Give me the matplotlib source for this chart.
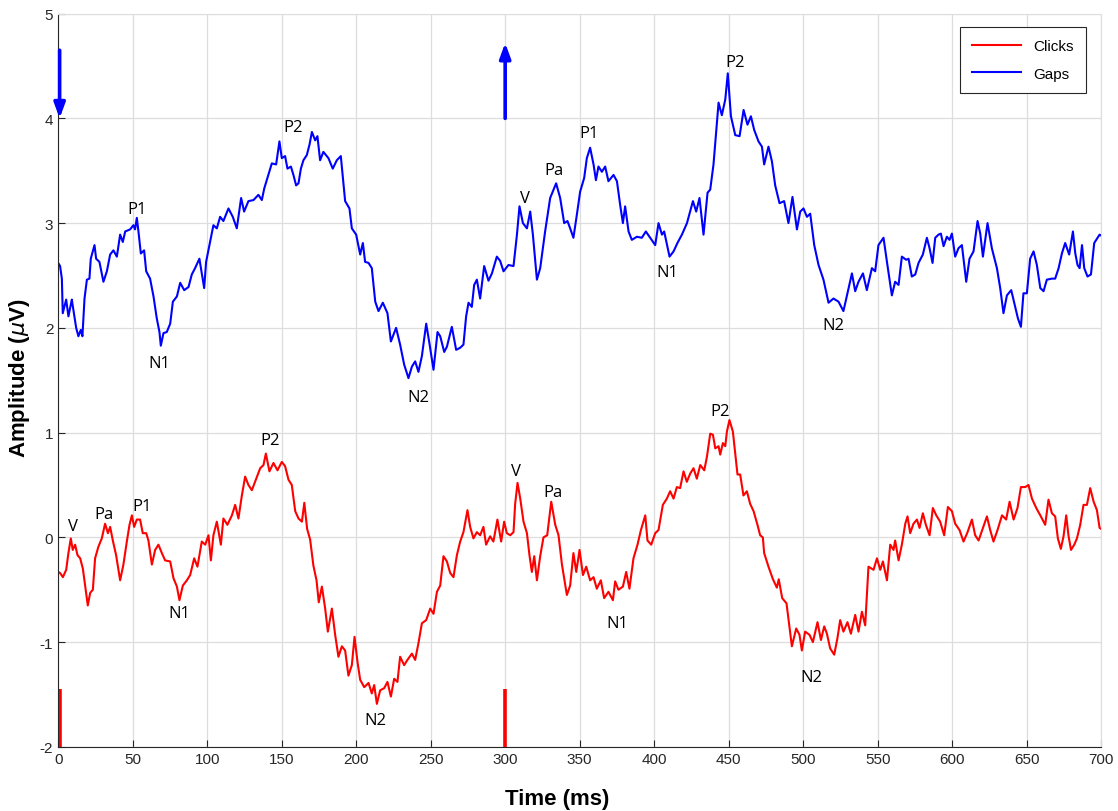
import matplotlib
matplotlib.use("Agg")
import matplotlib.pyplot as plt
import numpy as np

plt.rcParams["axes.unicode_minus"] = False

# (time ms, amplitude uV)
gaps_points = [
    (0, 2.62), (1.3, 2.59), (2.5, 2.47), (3.1, 2.14), (5.4, 2.27), (6.9, 2.11), (9.2, 2.27),
    (9.6, 2.23), (12.1, 2.0), (13.6, 1.92), (15.2, 1.98), (16.3, 1.92), (17.7, 2.28), (19.3, 2.46),
    (21, 2.47), (21.9, 2.66), (24.4, 2.79), (25.5, 2.66), (27.7, 2.63), (30.4, 2.44), (32.7, 2.54),
    (34.9, 2.70), (37.1, 2.74), (39.4, 2.68), (41.6, 2.89), (43.4, 2.82), (45, 2.92), (48.3, 2.94),
    (50.5, 2.98), (51.6, 2.94), (52.8, 3.05), (53.9, 2.92), (55.5, 2.71), (57.7, 2.74), (59.1, 2.54),
    (61.7, 2.47), (64, 2.30), (66.2, 2.09), (68, 1.96), (68.9, 1.83), (70.7, 1.95), (72.9, 1.96),
    (75.2, 2.04), (77, 2.25), (79.7, 2.30), (81.9, 2.43), (84.6, 2.36), (87.5, 2.39), (89.7, 2.51),
    (91.9, 2.57), (94.8, 2.66), (96.4, 2.52), (98, 2.38), (99.3, 2.63), (102, 2.82), (104.2, 2.98),
    (106.5, 2.95), (108.7, 3.06), (110.9, 3.02), (114.3, 3.14), (117.2, 3.06), (119.9, 2.95),
    (122.8, 3.24), (124.8, 3.11), (127.7, 3.21), (131.1, 3.22), (134.4, 3.27), (136.7, 3.22),
    (138.3, 3.33), (141.1, 3.46), (143.4, 3.57), (146.3, 3.56), (148.5, 3.78), (150.1, 3.62),
    (152.3, 3.64), (153.9, 3.52), (156.2, 3.54), (157.9, 3.46), (159.7, 3.36), (161.3, 3.38),
    (162.9, 3.52), (164.6, 3.60), (166.9, 3.65), (168.7, 3.75), (170.3, 3.87), (172.5, 3.79),
    (174, 3.83), (175.8, 3.60), (178, 3.68), (181.4, 3.62), (184.3, 3.52), (187, 3.60), (189.7, 3.64),
    (191.1, 3.43), (192.6, 3.21), (195.5, 3.14), (197.1, 2.95), (200, 2.89), (202.7, 2.70),
    (204.5, 2.81), (206, 2.63), (208.3, 2.62), (210.5, 2.57), (212.8, 2.25), (215, 2.16),
    (217.9, 2.24), (221, 2.14), (223.3, 1.87), (226.8, 2.0), (229.5, 1.84), (232.2, 1.65),
    (235.1, 1.52), (237.4, 1.63), (239.6, 1.68), (241.8, 1.58), (244.1, 1.73), (247, 2.04),
    (249.2, 1.85), (251.9, 1.60), (254.6, 1.96), (256.4, 1.92), (259.1, 1.77), (260.9, 1.82),
    (264.2, 2.01), (267.1, 1.79), (269.8, 1.81), (272, 1.84), (273.8, 2.11), (275.4, 2.24),
    (277.6, 2.20), (279.2, 2.41), (281, 2.46), (283.2, 2.28), (285.9, 2.59), (288.8, 2.45),
    (291.1, 2.52), (294.4, 2.68), (296.6, 2.64), (298.9, 2.54), (302.2, 2.60), (305.6, 2.59),
    (307.9, 2.89), (309.6, 3.16), (311.9, 3.0), (314.6, 2.95), (316.8, 3.11), (318.6, 2.89),
    (321.3, 2.46), (323.5, 2.57), (326.8, 2.92), (330.2, 3.24), (334.2, 3.38), (336.9, 3.24),
    (339.6, 3.0), (341.8, 3.02), (343.6, 2.95), (345.8, 2.86), (348.1, 3.08), (350.3, 3.30),
    (353, 3.43), (354.8, 3.62), (357, 3.72), (359.3, 3.56), (360.9, 3.41), (362.6, 3.54),
    (364.9, 3.49), (367.1, 3.54), (369.3, 3.40), (372.7, 3.46), (375, 3.40), (377.2, 3.17),
    (379, 3.0), (380.5, 3.16), (382.8, 2.92), (385, 2.84), (388.4, 2.87), (391.7, 2.86),
    (394.4, 2.92), (397.3, 2.86), (400.7, 2.79), (402.9, 3.0), (405.2, 2.89), (406.7, 2.92),
    (410.3, 2.68), (413, 2.73), (415.6, 2.81), (418.6, 2.89), (422, 3.0), (426, 3.21), (428.2, 3.11),
    (430.4, 3.24), (433.1, 2.89), (435.8, 3.29), (437.6, 3.32), (439.8, 3.56), (441.6, 3.87),
    (443.2, 4.15), (445.4, 4.03), (447.7, 4.18), (449.4, 4.43), (451.5, 4.02), (454.4, 3.84),
    (457.3, 3.83), (460, 4.08), (462.6, 3.94), (464.9, 4.02), (467.1, 3.89), (470, 3.78),
    (472.3, 3.73), (473.8, 3.56), (476.7, 3.73), (479, 3.59), (481.2, 3.36), (484.1, 3.19),
    (487.2, 3.21), (490.1, 3.0), (492.8, 3.25), (495.8, 2.94), (498, 3.11), (500.2, 3.14),
    (502.5, 3.06), (504.7, 3.09), (507.4, 2.79), (510.3, 2.60), (513.6, 2.46), (517, 2.24),
    (520.3, 2.28), (523.7, 2.25), (527, 2.16), (529.7, 2.33), (532.7, 2.52), (534.9, 2.35),
    (537.1, 2.44), (540.1, 2.52), (542.7, 2.36), (546.1, 2.57), (548.3, 2.54), (550.5, 2.79),
    (553.9, 2.86), (556.2, 2.63), (559.5, 2.31), (561.7, 2.44), (564, 2.41), (566.2, 2.68),
    (569.1, 2.65), (570.7, 2.66), (572.9, 2.49), (575.2, 2.51), (577.4, 2.62), (580.3, 2.70),
    (583, 2.86), (584.8, 2.76), (586.8, 2.62), (588.6, 2.86), (590.8, 2.89), (592.4, 2.90),
    (594.2, 2.78), (596.4, 2.87), (598.2, 2.84), (599.8, 2.90), (602, 2.68), (604.2, 2.76),
    (606.5, 2.79), (609.4, 2.44), (611.6, 2.66), (614.3, 2.73), (617, 3.02), (618.8, 2.90),
    (620.6, 2.68), (623.7, 3.0), (626.6, 2.76), (630, 2.57), (632.2, 2.38), (634.4, 2.14),
    (636.7, 2.31), (639.6, 2.36), (642.3, 2.20), (644.1, 2.09), (646.1, 2.01), (647.8, 2.33),
    (650.1, 2.33), (652.3, 2.66), (654.6, 2.73), (656.8, 2.60), (659.1, 2.38), (661.3, 2.35),
    (663.5, 2.46), (666.9, 2.47), (669.1, 2.47), (671.4, 2.57), (673.6, 2.71), (675.8, 2.81),
    (678.5, 2.70), (681, 2.92), (682.6, 2.71), (684.1, 2.60), (685.5, 2.57), (687.1, 2.79),
    (688.6, 2.57), (690.8, 2.49), (693.1, 2.51), (695.3, 2.81), (698.9, 2.89), (700, 2.88),
]

clicks_points = [
    (0, -0.33), (1.3, -0.34), (3.2, -0.38), (5.4, -0.31), (6.9, -0.15), (8.5, -0.01), (9.8, -0.12),
    (11.4, -0.07), (13, -0.17), (14.8, -0.20), (16.6, -0.30), (18.1, -0.46), (19.9, -0.65),
    (21.5, -0.53), (23.3, -0.50), (24.8, -0.20), (27, -0.09), (29.3, -0.01), (31.5, 0.13),
    (33.4, 0.04), (34.9, 0.10), (36.7, -0.03), (38.9, -0.17), (41.6, -0.41), (43.8, -0.26),
    (46.1, -0.04), (47.9, 0.12), (49.5, 0.21), (51, 0.10), (52.8, 0.17), (55, 0.17), (56.8, 0.04),
    (59.1, 0.04), (60.6, -0.03), (62.9, -0.26), (65.1, -0.12), (67.3, -0.07), (69.6, -0.15),
    (71.8, -0.22), (75.2, -0.23), (77.4, -0.39), (79.7, -0.47), (81.4, -0.60), (83.7, -0.46),
    (86.4, -0.41), (88.6, -0.36), (91.3, -0.20), (93.5, -0.28), (96.4, -0.04), (98.7, -0.07),
    (100.9, 0.02), (102.5, -0.22), (104.2, 0.02), (106.5, 0.15), (109.2, -0.07), (110.9, 0.18),
    (113.6, 0.12), (116.6, 0.21), (118.8, 0.31), (121, 0.18), (123.3, 0.40), (125.5, 0.58),
    (127.7, 0.50), (130, 0.45), (132.9, 0.56), (135.6, 0.66), (137.8, 0.69), (139.4, 0.80),
    (141.8, 0.63), (144.5, 0.71), (147.2, 0.64), (150.1, 0.72), (152.3, 0.68), (154.6, 0.55),
    (156.8, 0.50), (159.1, 0.25), (161.3, 0.18), (163.6, 0.15), (165.2, 0.33), (167.1, 0.08),
    (169.1, -0.02), (171.3, -0.27), (173.4, -0.41), (174.9, -0.62), (177, -0.47), (179.2, -0.68),
    (181, -0.90), (183.7, -0.68), (185.9, -0.93), (188.1, -1.14), (190.4, -1.04), (192.6, -1.08),
    (194.8, -1.32), (197.1, -1.22), (198.9, -0.95), (200.9, -1.19), (202.7, -1.36), (205.4, -1.43),
    (208.3, -1.39), (210.5, -1.49), (212.1, -1.41), (213.9, -1.59), (216.1, -1.46), (218.8, -1.44),
    (221, -1.38), (223.3, -1.52), (225.5, -1.35), (227.7, -1.38), (229.5, -1.14), (232.2, -1.22),
    (234.4, -1.17), (237.4, -1.11), (239.6, -1.17), (241.8, -1.01), (244.1, -0.82), (247, -0.79),
    (249.7, -0.68), (251.9, -0.73), (254.2, -0.52), (256.4, -0.46), (258.6, -0.18), (260.9, -0.23),
    (263.1, -0.34), (265.3, -0.38), (267.6, -0.17), (269.8, -0.04), (272, 0.05), (274.7, 0.26),
    (276.5, 0.10), (278.7, -0.01), (281, 0.05), (283.2, 0.02), (285.4, 0.10), (287.2, -0.07),
    (289.9, 0.01), (292.1, -0.04), (294.8, 0.17), (297.3, -0.04), (299.3, 0.15), (301.1, 0.04),
    (303.4, 0.02), (305.6, 0.05), (306.7, 0.32), (308.3, 0.52), (310.1, 0.37), (312.3, 0.15),
    (314.6, 0.04), (316.3, -0.17), (317.9, -0.33), (319.5, -0.18), (321.3, -0.41), (323.5, -0.18),
    (325.7, 0.0), (328.2, 0.02), (330.9, 0.34), (333.6, 0.12), (335.8, 0.02), (338.1, -0.26),
    (339.6, -0.39), (341.4, -0.55), (343.6, -0.46), (345.8, -0.15), (347.7, -0.33), (349.9, -0.12),
    (352.2, -0.36), (354.4, -0.28), (357, -0.41), (359.3, -0.38), (361.5, -0.49), (364.2, -0.41),
    (366.4, -0.58), (369.3, -0.52), (372.3, -0.60), (373.8, -0.42), (376, -0.50), (379, -0.47),
    (381.2, -0.33), (383.4, -0.49), (386.1, -0.20), (388.8, -0.07), (391.1, 0.07), (394, 0.21),
    (395.5, -0.03), (398, -0.07), (400.7, 0.04), (402.9, 0.07), (405.8, 0.31), (408.5, 0.37),
    (410.7, 0.44), (413, 0.37), (415.2, 0.48), (417.4, 0.47), (419.7, 0.63), (421.9, 0.53),
    (424.2, 0.61), (426.4, 0.66), (428.6, 0.56), (430.9, 0.69), (433.6, 0.64), (435.4, 0.77),
    (437.6, 0.99), (439.4, 0.98), (441, 0.85), (443.2, 0.87), (444.3, 0.79), (446.1, 0.90),
    (447.7, 0.87), (448.8, 1.01), (450.5, 1.12), (452.8, 1.01), (454.4, 0.80), (455.9, 0.60),
    (457.7, 0.60), (459.9, 0.40), (462.2, 0.44), (464.4, 0.32), (466.7, 0.25), (469.3, 0.12),
    (471.1, 0.02), (472.9, 0.0), (473.8, -0.15), (476.7, -0.28), (479.7, -0.40), (482.3, -0.48),
    (483.6, -0.40), (485.9, -0.58), (488.8, -0.63), (491.3, -0.92), (492.4, -1.04), (495.3, -0.87),
    (497.5, -0.93), (499.1, -1.08), (501.3, -0.90), (504.2, -0.93), (506.5, -1.0), (509.6, -0.81),
    (511.9, -0.98), (514.1, -0.85), (515.9, -0.92), (518.1, -1.06), (520.8, -1.12), (523, -0.96),
    (524.8, -0.79), (527, -0.90), (529.7, -0.81), (532, -0.92), (534.9, -0.74), (537.1, -0.90),
    (539.4, -0.71), (541.6, -0.84), (543.8, -0.28), (547.2, -0.31), (549.5, -0.20), (551.7, -0.31),
    (553.5, -0.23), (556.2, -0.41), (558.4, -0.07), (560.6, -0.12), (561.7, -0.03), (564, -0.22),
    (566.2, -0.07), (568.5, 0.13), (570, 0.20), (571.8, 0.04), (574, 0.13), (576.3, 0.17),
    (578.1, 0.09), (580.3, 0.23), (582.3, 0.12), (584.8, 0.02), (587, 0.28), (589.3, 0.21),
    (591.9, 0.15), (594.6, 0.02), (597.1, 0.29), (599.8, 0.25), (602, 0.13), (604.9, 0.07),
    (607.6, -0.04), (610.3, 0.05), (613.2, 0.17), (615.4, 0.02), (617.7, -0.03), (620.6, 0.09),
    (623.3, 0.20), (625.5, 0.07), (627.7, -0.04), (630.4, 0.07), (633.4, 0.21), (636.2, 0.17),
    (638.5, 0.34), (641.2, 0.17), (643.8, 0.28), (646.1, 0.48), (649, 0.48), (651.2, 0.50),
    (653.5, 0.37), (656.4, 0.28), (659.1, 0.21), (662.4, 0.12), (664.6, 0.36), (666.9, 0.23),
    (669.1, 0.20), (670.9, -0.01), (672.9, -0.11), (674.7, 0.01), (676.5, 0.21), (678, 0.02),
    (679.7, -0.12), (681.9, -0.07), (683.7, -0.01), (685.9, 0.12), (688.1, 0.31), (690.4, 0.31),
    (692.6, 0.47), (694.9, 0.34), (697.1, 0.26), (698.9, 0.09), (700, 0.08),
]

# peak names with label positions
gaps_peaks = [
    ("P1", 52.8, 3.13), ("N1", 68, 1.66), ("P2", 157.5, 3.92), ("N2", 241.8, 1.34),
    ("V", 313.4, 3.24), ("Pa", 332.9, 3.51), ("P1", 356.6, 3.86), ("N1", 408.5, 2.53),
    ("P2", 454.4, 4.54), ("N2", 520.3, 2.03),
]
clicks_peaks = [
    ("V", 9.6, 0.11), ("Pa", 30.9, 0.22), ("P1", 56.6, 0.30), ("N1", 81.4, -0.72),
    ("P2", 142.3, 0.93), ("N2", 213.2, -1.74), ("V", 307.4, 0.63), ("Pa", 332, 0.43),
    ("N1", 375.4, -0.82), ("P2", 444.3, 1.21), ("N2", 505.8, -1.33),
]

# stimulus markers
click_onsets = [1, 300]
gap_arrows = [(1, 4.65, 4.0), (300, 4.0, 4.72)]  # x, tail, head

x_ticks = np.arange(0, 701, 50)
y_ticks = np.arange(-2, 6, 1)

gaps = np.array(gaps_points)
clicks = np.array(clicks_points)

fig = plt.figure(figsize=(11.18, 8.12), dpi=100)
ax = fig.add_axes([0.052, 0.079, 0.933, 0.903])

ax.plot(clicks[:, 0], clicks[:, 1], color="#ff0000", lw=1.5, label="Clicks")
ax.plot(gaps[:, 0], gaps[:, 1], color="#0000ff", lw=1.5, label="Gaps")

for x in click_onsets:
    ax.plot([x, x], [-2, -1.45], color="#ff0000", lw=2.6, solid_capstyle="butt")

for x, y0, y1 in gap_arrows:
    ax.annotate(
        "", xy=(x, y1), xytext=(x, y0),
        arrowprops=dict(arrowstyle="-|>,head_length=0.9,head_width=0.33",
                        color="#0000ff", lw=2.6, shrinkA=0, shrinkB=0),
    )

for name, x, y in gaps_peaks + clicks_peaks:
    ax.text(x, y, name, ha="center", va="center", fontsize=12,
            family=["Open Sans", "DejaVu Sans"], color="black")

ax.set_xlim(0, 700)
ax.set_ylim(-2, 5)
ax.set_xticks(x_ticks)
ax.set_yticks(y_ticks)
ax.grid(True, color="#dddddd", lw=0.9)
ax.set_axisbelow(True)
ax.tick_params(direction="in", length=5, labelsize=11, colors="#262626",
               labelcolor="#262626")
for lab in ax.get_xticklabels() + ax.get_yticklabels():
    lab.set_family("Liberation Sans")

for side in ["left", "bottom"]:
    ax.spines[side].set_color("#262626")
for side in ["top", "right"]:
    ax.spines[side].set_color("#dddddd")

ax.set_xlabel("Time (ms)", fontsize=16, fontweight="bold", family="Liberation Sans")
ax.set_ylabel(r"Amplitude ($\mu$V)", fontsize=16, fontweight="bold",
              family="Liberation Sans")
ax.xaxis.set_label_coords((557 - 58) / 1043, -0.056)
ax.yaxis.set_label_coords(-0.025, 0.504)

leg = ax.legend(loc="upper right", bbox_to_anchor=(0.985, 0.982), borderaxespad=0,
                fancybox=False, framealpha=1, edgecolor="#262626",
                prop={"family": "Liberation Sans", "size": 11},
                handlelength=3.2, borderpad=0.8, labelspacing=0.9)
leg.get_frame().set_linewidth(0.8)

fig.savefig("out.png", dpi=100)
